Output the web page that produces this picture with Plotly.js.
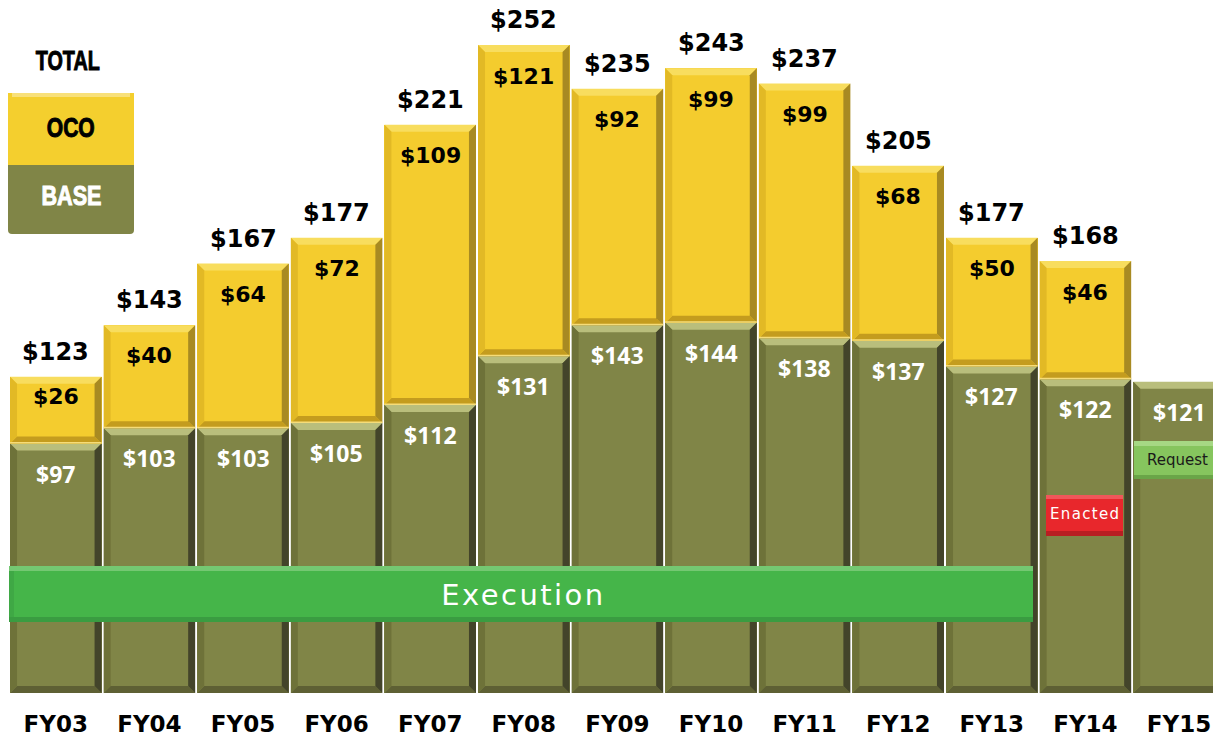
<!DOCTYPE html>
<html>
<head>
<meta charset="utf-8">
<script src="https://cdn.plot.ly/plotly-3.0.1.min.js"></script>
<style>html,body{margin:0;padding:0;background:#fff;}#chart{width:1213px;height:738px;}</style>
</head>
<body>
<div id="chart"></div>
<script>
var years = ['FY03','FY04','FY05','FY06','FY07','FY08','FY09','FY10','FY11','FY12','FY13','FY14','FY15'];
var baseValues = [97,103,103,105,112,131,143,144,138,137,127,122,121];
var ocoValues = [26,40,64,72,109,121,92,99,99,68,50,46,null];
var totalValues = [123,143,167,177,221,252,235,243,237,205,177,168,null];

var W = 1213, H = 738, ML = 9, MB = 45, MT = 0, MR = 0;
var plotW = W - ML - MR, plotH = H - MT - MB;
var yMax = 269.5;
var catPx = 93.6;
var pxPerUnit = plotH / yMax;
function px(x){ return (x - ML) / plotW; }
function py(y){ return (H - MB - y) / plotH; }

var yellow = '#F4CC2E', olive = '#808547';
var bargap = 0.022;

var traces = [
  {type:'bar', x: years, y: baseValues, name:'BASE',
   marker:{color: olive, line:{width:0}}, hoverinfo:'skip'},
  {type:'bar', x: years, y: ocoValues, name:'OCO',
   marker:{color: yellow, line:{width:0}}, hoverinfo:'skip'}
];

var annotations = [];
var boldFont = 'DejaVu Sans, sans-serif';
years.forEach(function(yr, i){
  if (totalValues[i] != null) {
    annotations.push({x: yr, y: totalValues[i], text: '$' + totalValues[i],
      showarrow:false, yshift: 25, xanchor:'center', yanchor:'middle',
      font:{family: boldFont, size: 24, color:'#000', weight:'bold'}});
  }
  if (ocoValues[i] != null) {
    var hpx = ocoValues[i] * pxPerUnit;
    annotations.push({x: yr, y: baseValues[i] + ocoValues[i], text: '$' + ocoValues[i],
      showarrow:false, yshift: -Math.min(31, 0.29 * hpx), xanchor:'center', yanchor:'middle',
      font:{family: boldFont, size: 22, color:'#000', weight:'bold'}});
  }
  annotations.push({x: yr, y: baseValues[i], text: '$' + baseValues[i],
    showarrow:false, yshift: -30, xanchor:'center', yanchor:'middle',
    font:{family:'Open Sans, sans-serif', size: 23, color:'#fff', weight:'bold'}});
});

function paperText(x, y, text, size, color, family, weight, anchor, name){
  annotations.push({xref:'paper', yref:'paper', x: px(x), y: py(y), text: text, showarrow:false,
    xanchor: anchor || 'center', yanchor:'middle', name: name || '',
    font:{family: family, size: size, color: color, weight: weight || 'normal'}});
}
paperText(68, 61, 'TOTAL', 27, '#000', 'Liberation Sans, Arial, sans-serif', 'bold', 'center', 'lg-total');
paperText(71, 128, 'OCO', 27, '#000', 'Liberation Sans, Arial, sans-serif', 'bold', 'center', 'lg-oco');
paperText(71, 196, 'BASE', 27, '#fff', 'Liberation Sans, Arial, sans-serif', 'bold', 'center', 'lg-base');
paperText(522, 595, 'Execution', 29, '#fff', 'DejaVu Sans, sans-serif', 'normal', 'center', 'exec');
paperText(1084, 514, 'Enacted', 15, '#fff', 'DejaVu Sans, sans-serif', 'normal', 'center', 'enacted');
paperText(1145, 460, 'Request', 15, '#1a1a1a', 'DejaVu Sans, sans-serif', 'normal', 'left', 'request');

function rect(x0,y0,x1,y1,fill){
  return {type:'rect', xref:'paper', yref:'paper', x0:px(x0), x1:px(x1), y0:py(y1), y1:py(y0),
    fillcolor: fill, line:{width:0}, layer:'above'};
}
function poly(pts, fill){
  var d = 'M ' + pts.map(function(p){ return p[0] + ',' + p[1]; }).join(' L ') + ' Z';
  return {type:'path', xref:'x', yref:'y', path: d, fillcolor: fill, line:{width:0}, layer:'above'};
}

var shapes = [];
// bevel effect on every bar segment (data coordinates)
var hw = (1 - bargap) / 2;
var dx = 7 / catPx, dy = 7 / pxPerUnit;
function bevel(i, y0, y1, c){
  var xL = i - hw, xR = i + hw;
  shapes.push(poly([[xL,y1],[xR,y1],[xR-dx,y1-dy],[xL+dx,y1-dy]], c.top));
  shapes.push(poly([[xL,y0],[xR,y0],[xR-dx,y0+dy],[xL+dx,y0+dy]], c.bottom));
  shapes.push(poly([[xL,y0],[xL,y1],[xL+dx,y1-dy],[xL+dx,y0+dy]], c.left));
  shapes.push(poly([[xR,y0],[xR,y1],[xR-dx,y1-dy],[xR-dx,y0+dy]], c.right));
}
var oliveBevel = {top:'#B9BE7C', bottom:'#5E6034', left:'#6E7239', right:'#43442A'};
var yellowBevel = {top:'#F8DD5E', bottom:'#C49C1E', left:'#E2B925', right:'#A88A22'};
years.forEach(function(yr, i){
  bevel(i, 0, baseValues[i], oliveBevel);
  if (ocoValues[i] != null) {
    bevel(i, baseValues[i], baseValues[i] + ocoValues[i], yellowBevel);
    // thin pale seam between OCO and BASE
    var s = 1.5 / pxPerUnit;
    shapes.push(poly([[i-hw, baseValues[i]],[i+hw, baseValues[i]],[i+hw, baseValues[i]+s],[i-hw, baseValues[i]+s]], '#F6DC78'));
  }
});

shapes = shapes.concat([
  rect(8,93,134,165,'#F4CF2E'),
  rect(12,93,130,97,'#F8E07A'),
  {type:'path', xref:'paper', yref:'paper', layer:'above', fillcolor: olive, line:{width:0},
    path: 'M '+px(8)+','+py(165)+' L '+px(134)+','+py(165)+' L '+px(134)+','+py(230)+
          ' Q '+px(134)+','+py(234)+' '+px(130)+','+py(234)+' L '+px(12)+','+py(234)+
          ' Q '+px(8)+','+py(234)+' '+px(8)+','+py(230)+' Z'},
  rect(9,566,1033,622,'#45B549'),
  rect(9,566,1033,571,'#74C872'),
  rect(9,617,1033,622,'#3A9C41'),
  rect(9,571,14,617,'#3FA845'),
  rect(1046,495,1123,536,'#E8272C'),
  rect(1046,495,1123,499,'#F0575A'),
  rect(1046,531,1123,536,'#B81E22'),
  rect(1134,441,1213,479,'#86C55E'),
  rect(1134,441,1213,446,'#A6D884'),
  rect(1134,475,1213,479,'#6AA548')
]);

var layout = {
  width: W, height: H,
  margin:{l: ML, r: MR, t: MT, b: MB, pad: 0},
  barmode:'stack', bargap: bargap,
  paper_bgcolor:'#fff', plot_bgcolor:'#fff',
  showlegend:false,
  xaxis:{range:[-0.5, plotW/catPx - 0.5], type:'category', showgrid:false, zeroline:false, showline:false,
    ticks:'outside', ticklen: 10, tickcolor:'rgba(0,0,0,0)',
    tickfont:{family: boldFont, size: 23, color:'#000', weight:'bold'}, fixedrange:true},
  yaxis:{range:[0, yMax], visible:false, showgrid:false, zeroline:false, fixedrange:true},
  annotations: annotations,
  shapes: shapes
};

Plotly.newPlot('chart', traces, layout, {displayModeBar:false, staticPlot:true}).then(function(gd){
  // squeeze/stretch a few labels to match the reference text widths
  var widths = {'lg-total':64, 'lg-oco':48, 'lg-base':60, 'exec':162, 'enacted':69};
  var nodes = gd.querySelectorAll('g.annotation');
  var anns = gd.layout.annotations;
  nodes.forEach(function(g){
    var idx = +g.getAttribute('data-index');
    var a = anns[idx];
    if (a && widths[a.name]) {
      var t = g.querySelector('text.annotation-text');
      if (t) {
        t.setAttribute('textLength', widths[a.name]);
        var isLegend = a.name.indexOf('lg-') === 0;
        t.setAttribute('lengthAdjust', isLegend ? 'spacingAndGlyphs' : 'spacing');
        if (isLegend) {
          t.style.stroke = a.font.color;
          t.style.strokeWidth = '1px';
        }
      }
    }
  });
});
</script>
</body>
</html>
